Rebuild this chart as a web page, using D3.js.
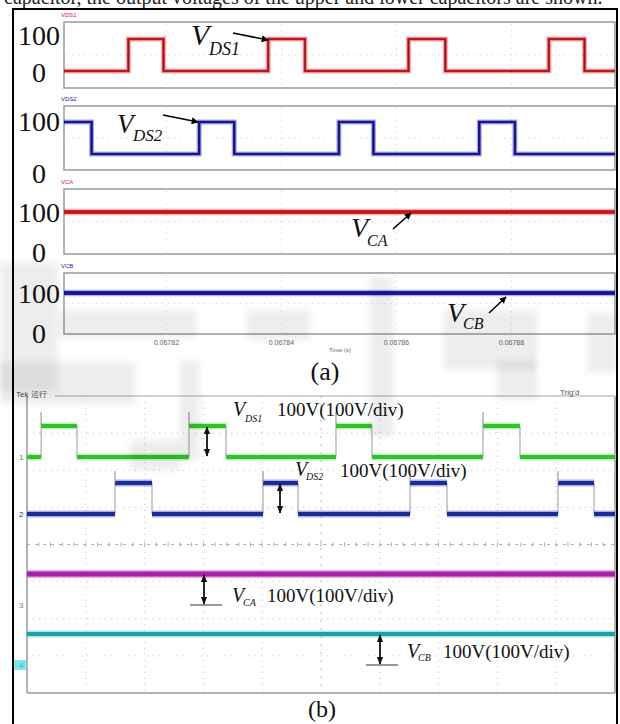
<!DOCTYPE html>
<html><head><meta charset="utf-8">
<script src="https://cdn.jsdelivr.net/npm/d3@7"></script>
<style>body{margin:0;background:#fff}svg{display:block}</style>
</head><body>
<svg id="c" width="620" height="724"></svg>
<script>
// ================= DATA =================
// (a) simulation, time in seconds
const timeDomain = [0.0678022, 0.0678980];
const timeTicks = [0.06782, 0.06784, 0.06786, 0.06788];
const timeTickLabels = ["0.06782", "0.06784", "0.06786", "0.06788"];
const levelTicks = [100, 0];
const levelTickLabels = ["100", "0"];
const simNames = ["VDS1", "VDS2", "VCA", "VCB"];
const vds1Times  = [0.0678022, 0.0678134, 0.0678195, 0.0678377, 0.0678441, 0.0678621, 0.0678685, 0.0678865, 0.0678927, 0.0678980];
const vds1Values = [0, 100, 0, 100, 0, 100, 0, 100, 0, 0];
const vds2Times  = [0.0678022, 0.0678070, 0.0678257, 0.0678318, 0.0678500, 0.0678560, 0.0678744, 0.0678806, 0.0678980];
const vds2Values = [100, 0, 100, 0, 100, 0, 100, 0, 0];
const vcaTimes   = [0.0678022, 0.0678980];
const vcaValues  = [100, 100];
const vcbTimes   = [0.0678022, 0.0678980];
const vcbValues  = [100, 100];
const simSubs = ["DS1", "DS2", "CA", "CB"];

// (b) oscilloscope, time in divisions, volts
const scopeDomain = [0, 10];
const scopeCh1Times  = [0, 0.24, 0.85, 2.755, 3.384, 5.255, 5.867, 7.755, 8.384, 10];
const scopeCh1Values = [0, 100, 0, 100, 0, 100, 0, 100, 0, 0];
const scopeCh2Times  = [0, 1.497, 2.126, 4.014, 4.609, 6.514, 7.143, 9.031, 9.643, 10];
const scopeCh2Values = [0, 100, 0, 100, 0, 100, 0, 100, 0, 0];
const scopeCh3Times  = [0, 10];
const scopeCh3Values = [100, 100];
const scopeCh4Times  = [0, 10];
const scopeCh4Values = [100, 100];
const scopeSubs = ["DS1", "DS2", "CA", "CB"];
const scopeScaleText = ["100V(100V/div)", "100V(100V/div)", "100V(100V/div)", "100V(100V/div)"];
const scopeChannelIds = ["1", "2", "3", "4"];

// ================= DRAW =================
const svg = d3.select("#c");
const SERIF = "'Liberation Serif','Times New Roman',serif";
const SANS = "'Liberation Sans',Arial,sans-serif";

const defs = svg.append("defs");
defs.append("marker").attr("id", "ah").attr("viewBox", "0 0 10 10").attr("refX", 9).attr("refY", 5)
  .attr("markerWidth", 7).attr("markerHeight", 7).attr("orient", "auto-start-reverse").attr("markerUnits", "userSpaceOnUse")
  .append("path").attr("d", "M0,0L10,5L0,10z").attr("fill", "#000");
defs.append("marker").attr("id", "ah2").attr("viewBox", "0 0 10 10").attr("refX", 9).attr("refY", 5)
  .attr("markerWidth", 8).attr("markerHeight", 8).attr("orient", "auto-start-reverse").attr("markerUnits", "userSpaceOnUse")
  .append("path").attr("d", "M0,1L10,5L0,9z").attr("fill", "#111");
defs.append("filter").attr("id", "blur").attr("x", "-20%").attr("y", "-20%").attr("width", "140%").attr("height", "140%")
  .append("feGaussianBlur").attr("stdDeviation", 3);

// top cut-off text
svg.append("text").attr("x", 4).attr("y", 4).attr("font-family", SERIF).attr("font-size", 20)
  .attr("fill", "#222").text("capacitor, the output voltages of the upper and lower capacitors are shown.");

// outer frame
svg.append("rect").attr("x", 13).attr("y", 9).attr("width", 604).attr("height", 730)
  .attr("fill", "none").attr("stroke", "#000").attr("stroke-width", 2);

// ---- (a) ----
const x = d3.scaleLinear().domain(timeDomain).range([64, 615]);
const panels = [
  {name: simNames[0], t: vds1Times, v: vds1Values, top: 22, bottom: 88, y0: 71, y100: 39, color: "#e02028", lab: {100: -4, 0: 1}, sw: 2.6},
  {name: simNames[1], t: vds2Times, v: vds2Values, top: 106, bottom: 170, y0: 154, y100: 122, color: "#1b1bb0", lab: {100: -1, 0: 19}, sw: 2.6},
  {name: simNames[2], t: vcaTimes, v: vcaValues, top: 189, bottom: 254, y0: 252, y100: 212, color: "#e02028", lab: {100: 0, 0: 0}, sw: 4},
  {name: simNames[3], t: vcbTimes, v: vcbValues, top: 273, bottom: 334, y0: 333, y100: 293, color: "#1b1bb0", lab: {100: 0, 0: 0}, sw: 4}
];
panels.forEach(p => {
  const y = d3.scaleLinear().domain([0, 100]).range([p.y0, p.y100]);
  const g = svg.append("g");
  g.append("rect").attr("x", 64).attr("y", p.top).attr("width", 551).attr("height", p.bottom - p.top)
    .attr("fill", "#fff").attr("stroke", "#9a9a9a").attr("stroke-width", 1.5);
  const grid = g.append("g").attr("stroke", "#cfcfcf").attr("stroke-width", 1).attr("stroke-dasharray", "1,5");
  timeTicks.forEach(tk => grid.append("line").attr("x1", x(tk)).attr("x2", x(tk)).attr("y1", p.top + 2).attr("y2", p.bottom - 2));
  const mid = (p.top + p.bottom) / 2;
  grid.append("line").attr("x1", 66).attr("x2", 613).attr("y1", mid).attr("y2", mid);
  g.append("text").attr("x", 61).attr("y", p.top - 5).attr("font-family", SANS).attr("font-size", 6)
    .attr("fill", p.color).text(p.name);
  const pts = p.t.map((t, i) => [t, p.v[i]]);
  const line = d3.line().x(d => x(d[0])).y(d => y(d[1])).curve(d3.curveStepAfter);
  g.append("path").attr("d", line(pts)).attr("fill", "none").attr("stroke", p.color).attr("stroke-opacity", 0.35)
    .attr("stroke-width", p.sw + 2.5);
  g.append("path").attr("d", line(pts)).attr("fill", "none").attr("stroke", p.color).attr("stroke-width", p.sw);
  g.append("path").attr("d", line(pts)).attr("fill", "none").attr("stroke", "#000").attr("stroke-opacity", 0.45)
    .attr("stroke-width", 0.8);
  levelTicks.forEach((lv, i) => {
    g.append("text").attr("x", 39).attr("y", y(lv) + p.lab[lv] + 9.5).attr("text-anchor", "middle")
      .attr("font-family", SERIF).attr("font-size", 28).attr("fill", "#111").text(levelTickLabels[i]);
  });
});
timeTicks.forEach((tk, i) => {
  svg.append("text").attr("x", x(tk)).attr("y", 345).attr("text-anchor", "middle").attr("font-family", SANS)
    .attr("font-size", 7).attr("fill", "#666").text(timeTickLabels[i]);
});
svg.append("text").attr("x", 340).attr("y", 352).attr("text-anchor", "middle").attr("font-family", SANS)
  .attr("font-size", 6).attr("fill", "#666").text("Time (s)");
svg.append("text").attr("x", 325).attr("y", 380).attr("text-anchor", "middle").attr("font-family", SERIF)
  .attr("font-size", 26).attr("fill", "#111").text("(a)");

const annA = [
  {vx: 191, vy: 45, vs: 30, sx: 209, sy: 55, ss: 18, a: [[233, 33], [268, 40]]},
  {vx: 117, vy: 133, vs: 27, sx: 133, sy: 141, ss: 17, a: [[163, 115], [198, 122]]},
  {vx: 351, vy: 237, vs: 28, sx: 367, sy: 246, ss: 16, a: [[393, 229], [411, 213]]},
  {vx: 447, vy: 322, vs: 28, sx: 463, sy: 329, ss: 16, a: [[489, 313], [506, 297]]}
];
annA.forEach((a, i) => {
  const t = svg.append("text").attr("font-family", SERIF).attr("font-style", "italic").attr("fill", "#111");
  t.append("tspan").attr("x", a.vx).attr("y", a.vy).attr("font-size", a.vs).text("V");
  t.append("tspan").attr("x", a.sx).attr("y", a.sy).attr("font-size", a.ss).text(simSubs[i]);
  svg.append("line").attr("x1", a.a[0][0]).attr("y1", a.a[0][1]).attr("x2", a.a[1][0]).attr("y2", a.a[1][1])
    .attr("stroke", "#000").attr("stroke-width", 1.6).attr("marker-end", "url(#ah)");
});

// ---- (b) oscilloscope ----
const sx = d3.scaleLinear().domain(scopeDomain).range([27, 615]);
const sTop = 396, sBot = 693;
const divH = (sBot - sTop) / 8;
const sg = svg.append("g");
const sgrid = sg.append("g").attr("stroke", "#c4c4c4").attr("stroke-width", 1).attr("stroke-dasharray", "1,5");
d3.range(1, 10).forEach(i => { if (i !== 5) sgrid.append("line").attr("x1", sx(i)).attr("x2", sx(i)).attr("y1", sTop).attr("y2", sBot); });
d3.range(1, 8).forEach(j => { if (j !== 4) sgrid.append("line").attr("x1", 27).attr("x2", 615).attr("y1", sTop + j * divH).attr("y2", sTop + j * divH); });
const cy = sTop + 4 * divH, cx = sx(5);
sg.append("line").attr("x1", 27).attr("x2", 615).attr("y1", cy).attr("y2", cy).attr("stroke", "#b0b0b0").attr("stroke-dasharray", "3,5");
sg.append("line").attr("x1", cx).attr("x2", cx).attr("y1", sTop).attr("y2", sBot).attr("stroke", "#b8b8b8").attr("stroke-dasharray", "2,6");
d3.range(0, 50).forEach(k => {
  const xx = sx(k / 5);
  sg.append("line").attr("x1", xx).attr("x2", xx).attr("y1", cy - 2).attr("y2", cy + 2).attr("stroke", "#aaa");
});
sg.append("line").attr("x1", 27).attr("x2", 27).attr("y1", sTop).attr("y2", sBot).attr("stroke", "#9a9a9a").attr("stroke-width", 1.5);
sg.append("line").attr("x1", 615).attr("x2", 615).attr("y1", sTop).attr("y2", sBot).attr("stroke", "#9a9a9a").attr("stroke-width", 1.5);
sg.append("line").attr("x1", 27).attr("x2", 615).attr("y1", sBot).attr("y2", sBot).attr("stroke", "#9a9a9a").attr("stroke-width", 1.5);
sg.append("line").attr("x1", 55).attr("x2", 615).attr("y1", sTop).attr("y2", sTop).attr("stroke", "#a8a8a8").attr("stroke-width", 1.2);
sg.append("text").attr("x", 16).attr("y", 397).attr("font-family", SANS).attr("font-size", 8).attr("fill", "#444").text("Tek 运行");
sg.append("text").attr("x", 560).attr("y", 395).attr("font-family", SANS).attr("font-size", 8).attr("fill", "#555").text("Trig'd");

const sv = d3.scaleLinear().domain([0, 100]).range([0, -31]);
const chans = [
  {t: scopeCh1Times, v: scopeCh1Values, gnd: 457, color: "#2fc22a", glow: "#8fe68a", sw: 4, spike: 14},
  {t: scopeCh2Times, v: scopeCh2Values, gnd: 514, color: "#1a2c9a", glow: "#6f7fd0", sw: 4, spike: 12},
  {t: scopeCh3Times, v: scopeCh3Values, gnd: 605, color: "#a51fa8", glow: "#d37ad6", sw: 5, spike: 0},
  {t: scopeCh4Times, v: scopeCh4Values, gnd: 665, color: "#1f9f9f", glow: "#6fd6d2", sw: 4, spike: 0}
];
const markColors = ["#2fa02a", "#1a2c9a", "#777", "#20b8b8"];
chans.forEach((c, ci) => {
  const pts = c.t.map((t, i) => [t, c.v[i]]);
  const yy = v => c.gnd + sv(v);
  const step = d3.line().x(d => sx(d[0])).y(d => yy(d[1])).curve(d3.curveStepAfter);
  sg.append("path").attr("d", step(pts)).attr("fill", "none").attr("stroke", "#999").attr("stroke-width", 1);
  const segs = pts.slice(0, -1).map((d, i) => [d, [pts[i + 1][0], d[1]]]);
  const hl = d3.line().x(d => sx(d[0])).y(d => yy(d[1]));
  segs.forEach(s => {
    sg.append("path").attr("d", hl(s)).attr("stroke", c.glow).attr("stroke-width", c.sw + 3).attr("stroke-opacity", 0.6);
    sg.append("path").attr("d", hl(s)).attr("stroke", c.color).attr("stroke-width", c.sw);
  });
  if (c.spike) pts.forEach((d, i) => {
    if (i > 0 && d[1] > pts[i - 1][1]) {
      sg.append("line").attr("x1", sx(d[0])).attr("x2", sx(d[0])).attr("y1", yy(d[1])).attr("y2", yy(d[1]) - c.spike)
        .attr("stroke", "#888").attr("stroke-width", 1);
    }
  });
  if (ci === 3) sg.append("rect").attr("x", 14).attr("y", c.gnd - 5).attr("width", 12).attr("height", 10).attr("fill", "#7fe6e6");
  sg.append("text").attr("x", 19).attr("y", c.gnd + 3).attr("font-family", SANS).attr("font-size", 8)
    .attr("fill", markColors[ci]).text(scopeChannelIds[ci]);
});

const annB = [
  {ax: 207, vx: 233, vy: 416, sx: 245, sy: 422, tx: 277, ty: 416, base: false},
  {ax: 280, vx: 295, vy: 476, sx: 306, sy: 480, tx: 340, ty: 477, base: false},
  {ax: 204, vx: 232, vy: 602, sx: 243, sy: 606, tx: 267, ty: 602, base: true},
  {ax: 380, vx: 407, vy: 658, sx: 418, sy: 661, tx: 443, ty: 658, base: true}
];
annB.forEach((a, i) => {
  const c = chans[i];
  const yHi = c.gnd + sv(100), yLo = c.gnd;
  svg.append("line").attr("x1", a.ax).attr("x2", a.ax).attr("y1", yHi + 1).attr("y2", yLo - 1)
    .attr("stroke", "#111").attr("stroke-width", 1.8).attr("marker-start", "url(#ah2)").attr("marker-end", "url(#ah2)");
  if (a.base) svg.append("line").attr("x1", a.ax - 14).attr("x2", a.ax + 18).attr("y1", yLo).attr("y2", yLo)
    .attr("stroke", "#333").attr("stroke-width", 1);
  const t = svg.append("text").attr("font-family", SERIF).attr("fill", "#111");
  t.append("tspan").attr("x", a.vx).attr("y", a.vy).attr("font-size", 20).attr("font-style", "italic").text("V");
  t.append("tspan").attr("x", a.sx).attr("y", a.sy).attr("font-size", 10).attr("font-style", "italic").text(scopeSubs[i]);
  svg.append("text").attr("x", a.tx).attr("y", a.ty).attr("font-family", SERIF).attr("font-size", 19)
    .attr("fill", "#111").text(scopeScaleText[i]);
});
svg.append("text").attr("x", 322).attr("y", 717).attr("text-anchor", "middle").attr("font-family", SERIF)
  .attr("font-size", 24).attr("fill", "#111").text("(b)");

// faint watermark overlay (blurred, translucent)
const wm = svg.append("g").attr("fill", "#000").attr("fill-opacity", 0.07).attr("filter", "url(#blur)").attr("pointer-events", "none");
[[0,262,58,130],[60,310,137,28],[247,310,63,30],[370,277,23,160],[443,310,94,60],[0,362,135,42],
 [180,360,20,100],[497,360,40,40],[587,313,30,60],[130,440,50,30]]
  .forEach(r => wm.append("rect").attr("x", r[0]).attr("y", r[1]).attr("width", r[2]).attr("height", r[3]));
</script>
</body></html>
